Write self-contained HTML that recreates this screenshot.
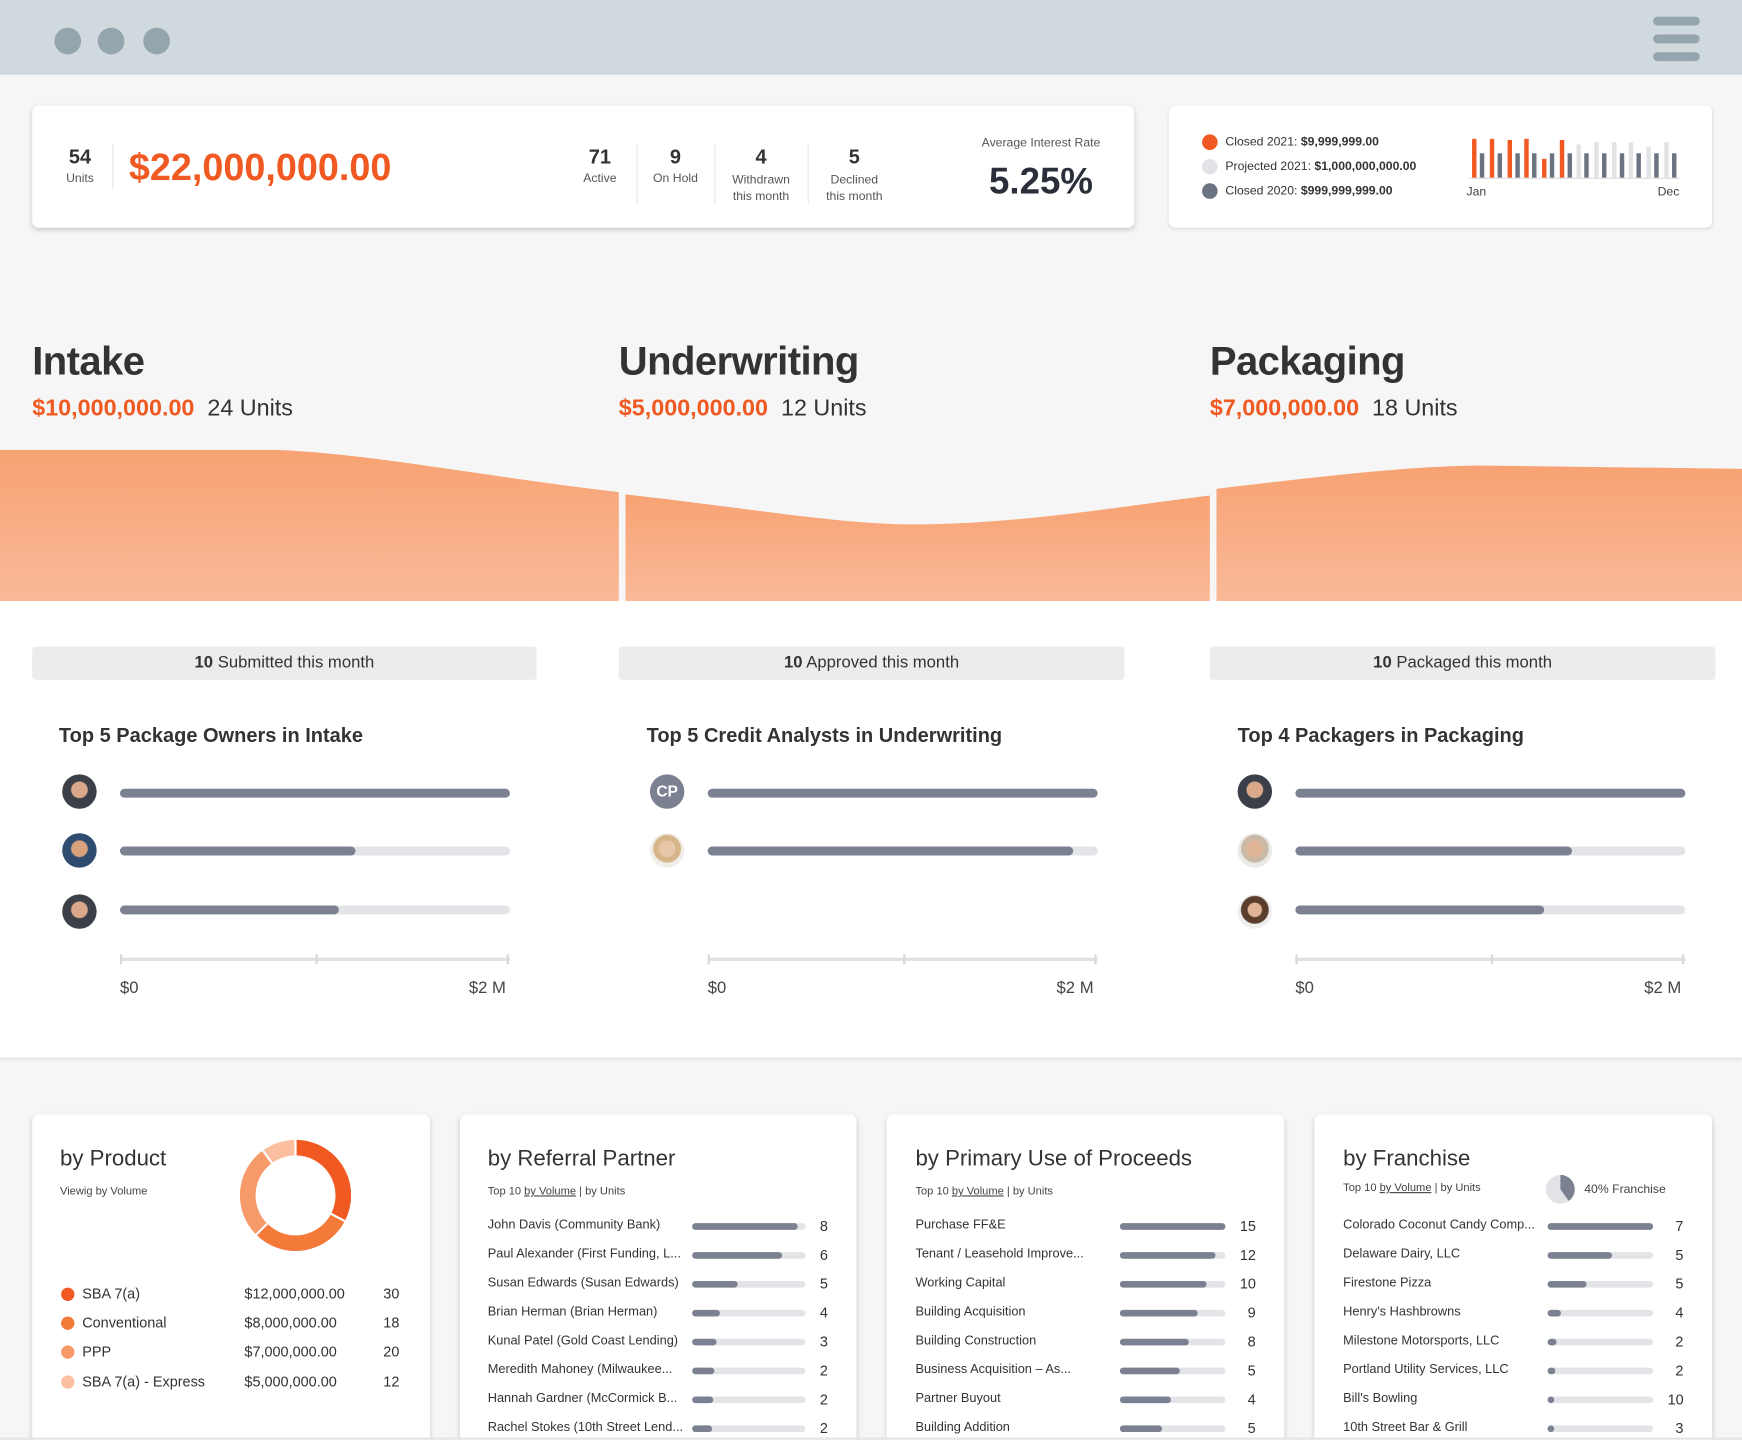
<!DOCTYPE html>
<html><head><meta charset="utf-8"><style>
*{margin:0;padding:0;box-sizing:border-box}
body{width:1742px;height:1440px;overflow:hidden;background:#f6f6f6;font-family:"Liberation Sans",sans-serif;color:#333}
#w{position:absolute;left:0;top:0;width:1568px;height:1296px;transform:scale(1.11097);transform-origin:0 0;background:#f6f6f6;overflow:hidden}
.a{position:absolute;white-space:nowrap}
.card{position:absolute;background:#fff;border-radius:6px;box-shadow:0 2px 5px rgba(0,0,0,.18)}
.c{text-align:center}
.or{color:#f05a22}
.pill{position:absolute;height:30px;background:#ececec;border-radius:3px;font-size:15px;line-height:30px;text-align:center;color:#333}
.h3{position:absolute;font-size:18px;font-weight:bold;color:#333}
.tr{position:absolute;height:8px;border-radius:4px;background:#e3e4e7}
.fi{position:absolute;left:0;top:0;height:8px;border-radius:4px;background:#7b8190}
.av{position:absolute;width:31px;height:31px;border-radius:50%;background:radial-gradient(circle at 50% 45%,#d9a98a 0 7px,#3a3f48 8px 16px)}
.ax{position:absolute;height:3px;background:#e0e1e4}
.tk{position:absolute;width:2px;height:9px;background:#d8d9dc}
.lab{position:absolute;font-size:15px;color:#444}
.bt{position:absolute;font-size:20px;color:#333}
.sub{position:absolute;font-size:10px;color:#444}
.sub u{color:#444}
.row{position:absolute;font-size:11.5px;color:#333}
.bt2{position:absolute;height:6px;border-radius:3px;background:#e3e4e7}
.bt2 i{position:absolute;left:0;top:0;height:6px;border-radius:3px;background:#7b8190}
.val{position:absolute;font-size:13px;color:#333}
</style></head><body><div id="w">
<div class="a" style="left:0;top:0;width:1568px;height:67px;background:#d0d9dd;border-bottom:1px solid #c8d1d5"></div>
<div class="a" style="left:49px;top:25px;width:24px;height:24px;border-radius:50%;background:#94a5ae"></div>
<div class="a" style="left:88px;top:25px;width:24px;height:24px;border-radius:50%;background:#94a5ae"></div>
<div class="a" style="left:129px;top:25px;width:24px;height:24px;border-radius:50%;background:#94a5ae"></div>
<div class="a" style="left:1488px;top:15px;width:42px;height:8px;border-radius:4px;background:#94a5ae"></div>
<div class="a" style="left:1488px;top:31px;width:42px;height:8px;border-radius:4px;background:#94a5ae"></div>
<div class="a" style="left:1488px;top:47px;width:42px;height:8px;border-radius:4px;background:#94a5ae"></div>

<div class="card" style="left:29px;top:95px;width:992px;height:110px"></div>
<div class="a c" style="left:52px;top:131px;width:40px;font-size:18px;font-weight:bold">54</div>
<div class="a c" style="left:52px;top:155px;width:40px;font-size:11px;color:#555">Units</div>
<div class="a" style="left:101px;top:130px;width:1px;height:40px;background:#e6e6e6"></div>
<div class="a or" style="left:116px;top:132px;font-size:34px;font-weight:bold">$22,000,000.00</div>
<div class="a c" style="left:510px;top:131px;width:60px;font-size:18px;font-weight:bold">71</div>
<div class="a c" style="left:510px;top:155px;width:60px;font-size:11px;color:#555">Active</div>
<div class="a" style="left:573px;top:130px;width:1px;height:53px;background:#e6e6e6"></div>
<div class="a c" style="left:578px;top:131px;width:60px;font-size:18px;font-weight:bold">9</div>
<div class="a c" style="left:578px;top:155px;width:60px;font-size:11px;color:#555">On Hold</div>
<div class="a" style="left:643px;top:130px;width:1px;height:53px;background:#e6e6e6"></div>
<div class="a c" style="left:645px;top:131px;width:80px;font-size:18px;font-weight:bold">4</div>
<div class="a c" style="left:645px;top:155px;width:80px;font-size:11px;color:#555;line-height:15px;white-space:normal">Withdrawn<br>this month</div>
<div class="a" style="left:727px;top:130px;width:1px;height:53px;background:#e6e6e6"></div>
<div class="a c" style="left:729px;top:131px;width:80px;font-size:18px;font-weight:bold">5</div>
<div class="a c" style="left:729px;top:155px;width:80px;font-size:11px;color:#555;line-height:15px;white-space:normal">Declined<br>this month</div>
<div class="a c" style="left:867px;top:123px;width:140px;font-size:11px;color:#555">Average Interest Rate</div>
<div class="a c" style="left:867px;top:144px;width:140px;font-size:33px;font-weight:bold;color:#2b2f3a">5.25%</div>

<div class="card" style="left:1052px;top:95px;width:489px;height:110px;box-shadow:0 1px 3px rgba(0,0,0,.12)"></div>
<div class="a" style="left:1082px;top:121px;width:14px;height:14px;border-radius:50%;background:#f05a22"></div>
<div class="a" style="left:1082px;top:143px;width:14px;height:14px;border-radius:50%;background:#e2e3e6"></div>
<div class="a" style="left:1082px;top:165px;width:14px;height:14px;border-radius:50%;background:#6b7282"></div>
<div class="a" style="left:1103px;top:122px;font-size:11px;color:#333">Closed 2021: <b>$9,999,999.00</b></div>
<div class="a" style="left:1103px;top:144px;font-size:11px;color:#333">Projected 2021: <b>$1,000,000,000.00</b></div>
<div class="a" style="left:1103px;top:166px;font-size:11px;color:#333">Closed 2020: <b>$999,999,999.00</b></div>
<svg class="a" style="left:1318px;top:118px" width="200" height="50">
<rect x="7" y="7" width="4" height="35" fill="#f05a22"/><rect x="14" y="20" width="4" height="22" fill="#6b7282"/>
<rect x="23" y="7" width="4" height="35" fill="#f05a22"/><rect x="30" y="20" width="4" height="22" fill="#6b7282"/>
<rect x="39" y="8" width="4" height="34" fill="#f05a22"/><rect x="46" y="20" width="4" height="22" fill="#6b7282"/>
<rect x="54" y="7" width="4" height="35" fill="#f05a22"/><rect x="61" y="20" width="4" height="22" fill="#6b7282"/>
<rect x="70" y="25" width="4" height="17" fill="#f05a22"/><rect x="77" y="20" width="4" height="22" fill="#6b7282"/>
<rect x="86" y="8" width="4" height="34" fill="#f05a22"/><rect x="93" y="20" width="4" height="22" fill="#6b7282"/>
<rect x="101" y="12" width="4" height="30" fill="#e2e3e6"/><rect x="108" y="20" width="4" height="22" fill="#6b7282"/>
<rect x="117" y="10" width="4" height="32" fill="#e2e3e6"/><rect x="124" y="20" width="4" height="22" fill="#6b7282"/>
<rect x="133" y="10" width="4" height="32" fill="#e2e3e6"/><rect x="140" y="20" width="4" height="22" fill="#6b7282"/>
<rect x="148" y="10" width="4" height="32" fill="#e2e3e6"/><rect x="155" y="20" width="4" height="22" fill="#6b7282"/>
<rect x="164" y="14" width="4" height="28" fill="#e2e3e6"/><rect x="171" y="20" width="4" height="22" fill="#6b7282"/>
<rect x="180" y="10" width="4" height="32" fill="#e2e3e6"/><rect x="187" y="20" width="4" height="22" fill="#6b7282"/>
<line x1="4" y1="42.5" x2="194" y2="42.5" stroke="#ddd" stroke-width="1"/>
</svg>
<div class="a" style="left:1320px;top:167px;font-size:11px;color:#444">Jan</div>
<div class="a" style="left:1492px;top:167px;font-size:11px;color:#444">Dec</div>

<div class="a" style="left:29px;top:304px;font-size:36px;font-weight:bold;color:#333;letter-spacing:-0.5px">Intake</div>
<div class="a" style="left:29px;top:356px;font-size:21px"><b class="or">$10,000,000.00</b>&nbsp; 24 Units</div>
<div class="a" style="left:557px;top:304px;font-size:36px;font-weight:bold;color:#333;letter-spacing:-0.5px">Underwriting</div>
<div class="a" style="left:557px;top:356px;font-size:21px"><b class="or">$5,000,000.00</b>&nbsp; 12 Units</div>
<div class="a" style="left:1089px;top:304px;font-size:36px;font-weight:bold;color:#333;letter-spacing:-0.5px">Packaging</div>
<div class="a" style="left:1089px;top:356px;font-size:21px"><b class="or">$7,000,000.00</b>&nbsp; 18 Units</div>

<div class="a" style="left:0;top:540px;width:1568px;height:412px;background:#fff;box-shadow:0 2px 3px rgba(0,0,0,.08)"></div>
<svg class="a" style="left:0;top:400px" width="1568" height="141">
<defs><linearGradient id="g" x1="0" y1="0" x2="0" y2="1"><stop offset="0" stop-color="#f7a273"/><stop offset="1" stop-color="#fab998"/></linearGradient></defs>
<path d="M0 5 L250 5 C330 8 430 28 557 43 L557 141 L0 141Z" fill="url(#g)"/>
<path d="M563 45 C680 58 760 73 830 72 C920 71 1000 57 1089 46 L1089 141 L563 141Z" fill="url(#g)"/>
<path d="M1095 40 C1180 30 1260 20 1330 19 L1568 22 L1568 141 L1095 141Z" fill="url(#g)"/>
</svg>

<div class="pill" style="left:29px;top:581px;width:454px;top:582px"><b>10</b> Submitted this month</div>
<div class="pill" style="left:557px;top:582px;width:455px"><b>10</b> Approved this month</div>
<div class="pill" style="left:1089px;top:582px;width:455px"><b>10</b> Packaged this month</div>

<div class="h3" style="left:53px;top:652px">Top 5 Package Owners in Intake</div>
<div class="h3" style="left:582px;top:652px">Top 5 Credit Analysts in Underwriting</div>
<div class="h3" style="left:1114px;top:652px">Top 4 Packagers in Packaging</div>

<div class="av" style="left:56px;top:697px"></div>
<div class="av" style="left:56px;top:750px;background:radial-gradient(circle at 50% 45%,#d8a27c 0 7px,#2f4c70 8px 16px)"></div>
<div class="av" style="left:56px;top:805px"></div>
<div class="tr" style="left:108px;top:710px;width:351px"><div class="fi" style="width:351px"></div></div>
<div class="tr" style="left:108px;top:762px;width:351px"><div class="fi" style="width:212px"></div></div>
<div class="tr" style="left:108px;top:815px;width:351px"><div class="fi" style="width:197px"></div></div>
<div class="ax" style="left:108px;top:862px;width:351px"></div>
<div class="tk" style="left:108px;top:859px"></div><div class="tk" style="left:284px;top:859px"></div><div class="tk" style="left:456px;top:859px"></div>
<div class="lab" style="left:108px;top:881px">$0</div><div class="lab" style="left:422px;top:881px">$2 M</div>

<div class="av" style="left:585px;top:697px;background:#7b8190;color:#fff;font-size:14px;font-weight:bold;line-height:31px;text-align:center">CP</div>
<div class="av" style="left:585px;top:750px;background:radial-gradient(circle at 50% 45%,#e8c7a8 0 7px,#d6b58a 8px 12px,#f1eeea 13px 16px)"></div>
<div class="tr" style="left:637px;top:710px;width:351px"><div class="fi" style="width:351px"></div></div>
<div class="tr" style="left:637px;top:762px;width:351px"><div class="fi" style="width:329px"></div></div>
<div class="ax" style="left:637px;top:862px;width:351px"></div>
<div class="tk" style="left:637px;top:859px"></div><div class="tk" style="left:813px;top:859px"></div><div class="tk" style="left:985px;top:859px"></div>
<div class="lab" style="left:637px;top:881px">$0</div><div class="lab" style="left:951px;top:881px">$2 M</div>

<div class="av" style="left:1114px;top:697px"></div>
<div class="av" style="left:1114px;top:750px;background:radial-gradient(circle at 50% 45%,#e0b596 0 7px,#c9b9a6 8px 12px,#eceae6 13px 16px)"></div>
<div class="av" style="left:1114px;top:805px;background:radial-gradient(circle at 50% 45%,#e2b497 0 6px,#5a3d2a 7px 12px,#efefef 13px 16px)"></div>
<div class="tr" style="left:1166px;top:710px;width:351px"><div class="fi" style="width:351px"></div></div>
<div class="tr" style="left:1166px;top:762px;width:351px"><div class="fi" style="width:249px"></div></div>
<div class="tr" style="left:1166px;top:815px;width:351px"><div class="fi" style="width:224px"></div></div>
<div class="ax" style="left:1166px;top:862px;width:351px"></div>
<div class="tk" style="left:1166px;top:859px"></div><div class="tk" style="left:1342px;top:859px"></div><div class="tk" style="left:1514px;top:859px"></div>
<div class="lab" style="left:1166px;top:881px">$0</div><div class="lab" style="left:1480px;top:881px">$2 M</div>

<div class="card" style="left:29px;top:1003px;width:358px;height:300px"></div>
<div class="card" style="left:414px;top:1003px;width:357px;height:300px"></div>
<div class="card" style="left:798px;top:1003px;width:358px;height:300px"></div>
<div class="card" style="left:1183px;top:1003px;width:358px;height:300px"></div>

<div class="bt" style="left:54px;top:1032px">by Product</div>
<div class="sub" style="left:54px;top:1067px">Viewig by Volume</div>
<svg class="a" style="left:216px;top:1026px" width="100" height="100">
<g transform="translate(50,50)" fill="none" stroke-width="14">
<circle r="43" stroke="#fbbf9f"/>
<path d="M0 -43 A43 43 0 0 1 38.2 19.8" stroke="#f05a22"/>
<path d="M38.2 19.8 A43 43 0 0 1 -30.4 30.4" stroke="#f47a3a"/>
<path d="M-30.4 30.4 A43 43 0 0 1 -25.3 -34.8" stroke="#f79a6a"/>
<g stroke="#fff" stroke-width="2"><line x1="0" y1="-36" x2="0" y2="-50"/><line x1="31.8" y1="16.5" x2="44.4" y2="23.1"/><line x1="-25.5" y1="25.5" x2="-35.4" y2="35.4"/><line x1="-21.2" y1="-29.1" x2="-29.4" y2="-40.4"/></g>
</g></svg>
<div class="a" style="left:55px;top:1159px;width:12px;height:12px;border-radius:50%;background:#f05a22"></div>
<div class="a" style="left:55px;top:1185px;width:12px;height:12px;border-radius:50%;background:#f47a3a"></div>
<div class="a" style="left:55px;top:1211px;width:12px;height:12px;border-radius:50%;background:#f79a6a"></div>
<div class="a" style="left:55px;top:1238px;width:12px;height:12px;border-radius:50%;background:#fbbf9f"></div>
<div class="row" style="left:74px;top:1157px;font-size:13px">SBA 7(a)</div>
<div class="row" style="left:74px;top:1183px;font-size:13px">Conventional</div>
<div class="row" style="left:74px;top:1209px;font-size:13px">PPP</div>
<div class="row" style="left:74px;top:1236px;font-size:13px">SBA 7(a) - Express</div>
<div class="row" style="left:220px;top:1157px;font-size:13px">$12,000,000.00</div>
<div class="row" style="left:220px;top:1183px;font-size:13px">$8,000,000.00</div>
<div class="row" style="left:220px;top:1209px;font-size:13px">$7,000,000.00</div>
<div class="row" style="left:220px;top:1236px;font-size:13px">$5,000,000.00</div>
<div class="row" style="left:345px;top:1157px;font-size:13px">30</div>
<div class="row" style="left:345px;top:1183px;font-size:13px">18</div>
<div class="row" style="left:345px;top:1209px;font-size:13px">20</div>
<div class="row" style="left:345px;top:1236px;font-size:13px">12</div>

<div class="bt" style="left:439px;top:1032px">by Referral Partner</div>
<div class="sub" style="left:439px;top:1067px">Top 10 <u>by Volume</u> | by Units</div>
<div class="row" style="left:439px;top:1097px">John Davis (Community Bank)</div><div class="bt2" style="left:623px;top:1101px;width:102px"><i style="width:95px"></i></div><div class="val" style="left:738px;top:1096px">8</div>
<div class="row" style="left:439px;top:1123px">Paul Alexander (First Funding, L...</div><div class="bt2" style="left:623px;top:1127px;width:102px"><i style="width:81px"></i></div><div class="val" style="left:738px;top:1122px">6</div>
<div class="row" style="left:439px;top:1149px">Susan Edwards (Susan Edwards)</div><div class="bt2" style="left:623px;top:1153px;width:102px"><i style="width:41px"></i></div><div class="val" style="left:738px;top:1148px">5</div>
<div class="row" style="left:439px;top:1175px">Brian Herman (Brian Herman)</div><div class="bt2" style="left:623px;top:1179px;width:102px"><i style="width:25px"></i></div><div class="val" style="left:738px;top:1174px">4</div>
<div class="row" style="left:439px;top:1201px">Kunal Patel (Gold Coast Lending)</div><div class="bt2" style="left:623px;top:1205px;width:102px"><i style="width:22px"></i></div><div class="val" style="left:738px;top:1200px">3</div>
<div class="row" style="left:439px;top:1227px">Meredith Mahoney (Milwaukee...</div><div class="bt2" style="left:623px;top:1231px;width:102px"><i style="width:20px"></i></div><div class="val" style="left:738px;top:1226px">2</div>
<div class="row" style="left:439px;top:1253px">Hannah Gardner (McCormick B...</div><div class="bt2" style="left:623px;top:1257px;width:102px"><i style="width:19px"></i></div><div class="val" style="left:738px;top:1252px">2</div>
<div class="row" style="left:439px;top:1279px">Rachel Stokes (10th Street Lend...</div><div class="bt2" style="left:623px;top:1283px;width:102px"><i style="width:18px"></i></div><div class="val" style="left:738px;top:1278px">2</div>

<div class="bt" style="left:824px;top:1032px">by Primary Use of Proceeds</div>
<div class="sub" style="left:824px;top:1067px">Top 10 <u>by Volume</u> | by Units</div>
<div class="row" style="left:824px;top:1097px">Purchase FF&amp;E</div><div class="bt2" style="left:1008px;top:1101px;width:95px"><i style="width:95px"></i></div><div class="val" style="left:1116px;top:1096px">15</div>
<div class="row" style="left:824px;top:1123px">Tenant / Leasehold Improve...</div><div class="bt2" style="left:1008px;top:1127px;width:95px"><i style="width:86px"></i></div><div class="val" style="left:1116px;top:1122px">12</div>
<div class="row" style="left:824px;top:1149px">Working Capital</div><div class="bt2" style="left:1008px;top:1153px;width:95px"><i style="width:78px"></i></div><div class="val" style="left:1116px;top:1148px">10</div>
<div class="row" style="left:824px;top:1175px">Building Acquisition</div><div class="bt2" style="left:1008px;top:1179px;width:95px"><i style="width:70px"></i></div><div class="val" style="left:1123px;top:1174px">9</div>
<div class="row" style="left:824px;top:1201px">Building Construction</div><div class="bt2" style="left:1008px;top:1205px;width:95px"><i style="width:62px"></i></div><div class="val" style="left:1123px;top:1200px">8</div>
<div class="row" style="left:824px;top:1227px">Business Acquisition – As...</div><div class="bt2" style="left:1008px;top:1231px;width:95px"><i style="width:54px"></i></div><div class="val" style="left:1123px;top:1226px">5</div>
<div class="row" style="left:824px;top:1253px">Partner Buyout</div><div class="bt2" style="left:1008px;top:1257px;width:95px"><i style="width:46px"></i></div><div class="val" style="left:1123px;top:1252px">4</div>
<div class="row" style="left:824px;top:1279px">Building Addition</div><div class="bt2" style="left:1008px;top:1283px;width:95px"><i style="width:38px"></i></div><div class="val" style="left:1123px;top:1278px">5</div>

<div class="bt" style="left:1209px;top:1032px">by Franchise</div>
<div class="sub" style="left:1209px;top:1064px">Top 10 <u>by Volume</u> | by Units</div>
<svg class="a" style="left:1391px;top:1057px" width="27" height="27"><circle cx="13.5" cy="13.5" r="13" fill="#e2e3e6"/><path d="M13.5 13.5 L13.5 0.5 A13 13 0 0 1 21.1 24 Z" fill="#7b8190"/></svg>
<div class="sub" style="left:1426px;top:1065px;font-size:11px">40% Franchise</div>
<div class="row" style="left:1209px;top:1097px">Colorado Coconut Candy Comp...</div><div class="bt2" style="left:1393px;top:1101px;width:95px"><i style="width:95px"></i></div><div class="val" style="left:1508px;top:1096px">7</div>
<div class="row" style="left:1209px;top:1123px">Delaware Dairy, LLC</div><div class="bt2" style="left:1393px;top:1127px;width:95px"><i style="width:58px"></i></div><div class="val" style="left:1508px;top:1122px">5</div>
<div class="row" style="left:1209px;top:1149px">Firestone Pizza</div><div class="bt2" style="left:1393px;top:1153px;width:95px"><i style="width:35px"></i></div><div class="val" style="left:1508px;top:1148px">5</div>
<div class="row" style="left:1209px;top:1175px">Henry's Hashbrowns</div><div class="bt2" style="left:1393px;top:1179px;width:95px"><i style="width:12px"></i></div><div class="val" style="left:1508px;top:1174px">4</div>
<div class="row" style="left:1209px;top:1201px">Milestone Motorsports, LLC</div><div class="bt2" style="left:1393px;top:1205px;width:95px"><i style="width:8px"></i></div><div class="val" style="left:1508px;top:1200px">2</div>
<div class="row" style="left:1209px;top:1227px">Portland Utility Services, LLC</div><div class="bt2" style="left:1393px;top:1231px;width:95px"><i style="width:7px"></i></div><div class="val" style="left:1508px;top:1226px">2</div>
<div class="row" style="left:1209px;top:1253px">Bill's Bowling</div><div class="bt2" style="left:1393px;top:1257px;width:95px"><i style="width:6px"></i></div><div class="val" style="left:1501px;top:1252px">10</div>
<div class="row" style="left:1209px;top:1279px">10th Street Bar &amp; Grill</div><div class="bt2" style="left:1393px;top:1283px;width:95px"><i style="width:6px"></i></div><div class="val" style="left:1508px;top:1278px">3</div>

<div class="a" style="left:0;top:1294px;width:1568px;height:2px;background:#dfe5e8"></div>
</div></body></html>
